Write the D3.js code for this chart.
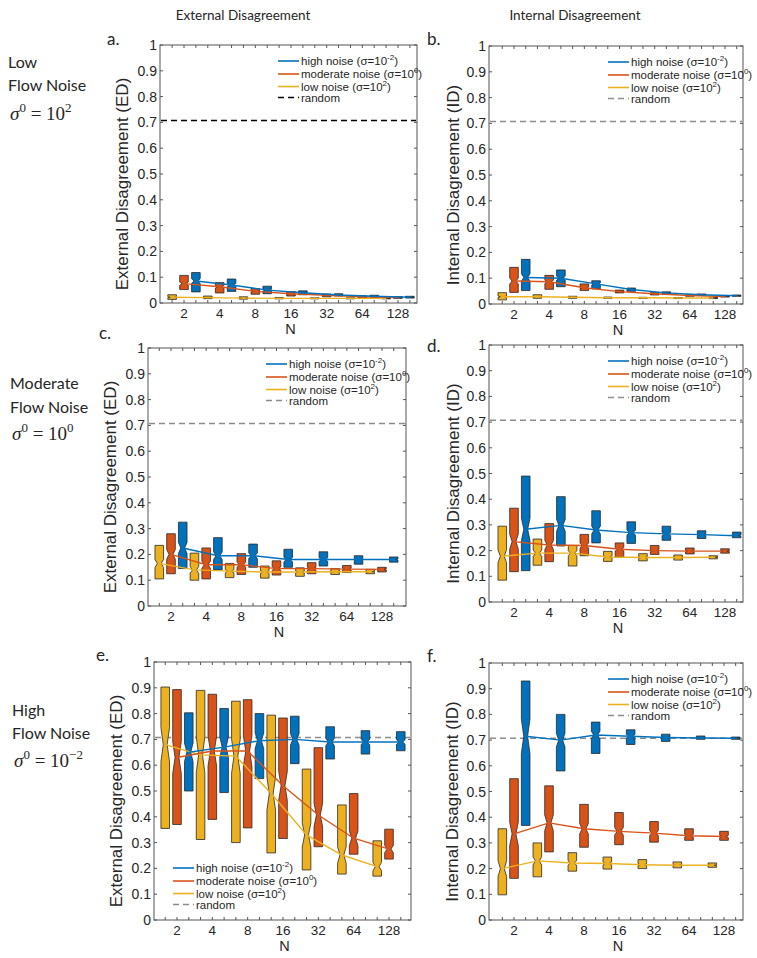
<!DOCTYPE html>
<html><head><meta charset="utf-8">
<script src="https://cdn.jsdelivr.net/npm/d3@7"></script>
<style>
body{margin:0;background:#fff;}
svg text{fill:#262626;}
</style>
</head><body>
<svg id="chart" width="757" height="958"></svg>
<script>
// ---------- DATA ----------
const Ns = [2, 4, 8, 16, 32, 64, 128];
const xTickLabels = ["2", "4", "8", "16", "32", "64", "128"];
const yTickValues = [0, 0.1, 0.2, 0.3, 0.4, 0.5, 0.6, 0.7, 0.8, 0.9, 1];
const randomLevel = 0.707;
const seriesNames = ["high noise (σ=10", "moderate noise (σ=10", "low noise (σ=10"];
const seriesExps = ["-2", "0", "2"];
const randomName = "random";
// each entry: [q1, median, q3] for N = 2..128
const aLow  = [[0.014,0.022,0.032],[0.017,0.021,0.027],[0.015,0.019,0.024],[0.016,0.018,0.021],[0.016,0.018,0.020],[0.016,0.018,0.020],[0.016,0.018,0.019]];
const aMod  = [[0.052,0.075,0.107],[0.039,0.063,0.079],[0.034,0.045,0.056],[0.027,0.036,0.044],[0.024,0.030,0.035],[0.020,0.024,0.028],[0.018,0.021,0.025]];
const aHigh = [[0.043,0.085,0.118],[0.045,0.070,0.093],[0.036,0.050,0.065],[0.032,0.040,0.047],[0.027,0.031,0.036],[0.022,0.026,0.030],[0.019,0.022,0.026]];
const bLow  = [[0.016,0.028,0.044],[0.022,0.028,0.036],[0.022,0.026,0.030],[0.022,0.024,0.027],[0.022,0.024,0.026],[0.021,0.023,0.025],[0.021,0.023,0.025]];
const bMod  = [[0.045,0.089,0.142],[0.057,0.086,0.111],[0.052,0.063,0.078],[0.043,0.048,0.054],[0.035,0.040,0.044],[0.030,0.033,0.036],[0.027,0.029,0.032]];
const bHigh = [[0.052,0.103,0.173],[0.067,0.100,0.132],[0.059,0.078,0.090],[0.049,0.056,0.062],[0.038,0.043,0.047],[0.033,0.036,0.039],[0.030,0.032,0.035]];
const cLow  = [[0.105,0.165,0.235],[0.100,0.140,0.205],[0.110,0.135,0.165],[0.108,0.132,0.155],[0.115,0.132,0.148],[0.122,0.133,0.145],[0.125,0.133,0.142]];
const cMod  = [[0.125,0.200,0.280],[0.105,0.160,0.225],[0.122,0.160,0.203],[0.120,0.145,0.175],[0.125,0.145,0.168],[0.130,0.143,0.157],[0.132,0.142,0.150]];
const cHigh = [[0.145,0.225,0.325],[0.140,0.195,0.265],[0.150,0.195,0.240],[0.150,0.180,0.220],[0.155,0.180,0.210],[0.162,0.180,0.195],[0.170,0.180,0.190]];
const dLow  = [[0.085,0.178,0.295],[0.143,0.190,0.245],[0.140,0.190,0.220],[0.158,0.175,0.197],[0.160,0.173,0.188],[0.163,0.173,0.183],[0.168,0.174,0.180]];
const dMod  = [[0.118,0.235,0.365],[0.157,0.222,0.305],[0.180,0.220,0.263],[0.175,0.205,0.230],[0.185,0.200,0.220],[0.187,0.198,0.210],[0.190,0.198,0.207]];
const dHigh = [[0.122,0.283,0.490],[0.218,0.298,0.410],[0.230,0.280,0.355],[0.228,0.270,0.312],[0.240,0.265,0.295],[0.247,0.262,0.277],[0.250,0.258,0.272]];
const eLow  = [[0.355,0.680,0.903],[0.312,0.640,0.890],[0.300,0.635,0.848],[0.260,0.490,0.794],[0.194,0.330,0.585],[0.178,0.252,0.446],[0.170,0.207,0.307]];
const eMod  = [[0.370,0.630,0.893],[0.390,0.655,0.875],[0.357,0.655,0.854],[0.316,0.520,0.783],[0.284,0.407,0.668],[0.255,0.317,0.490],[0.236,0.275,0.352]];
const eHigh = [[0.500,0.650,0.803],[0.494,0.670,0.820],[0.548,0.695,0.800],[0.606,0.700,0.790],[0.624,0.690,0.749],[0.643,0.690,0.734],[0.656,0.690,0.730]];
const fLow  = [[0.098,0.200,0.355],[0.168,0.230,0.300],[0.190,0.222,0.262],[0.198,0.220,0.245],[0.200,0.215,0.235],[0.203,0.213,0.226],[0.205,0.213,0.222]];
const fMod  = [[0.162,0.335,0.550],[0.265,0.378,0.522],[0.283,0.355,0.450],[0.293,0.345,0.418],[0.303,0.338,0.383],[0.310,0.328,0.355],[0.310,0.325,0.345]];
const fHigh = [[0.368,0.715,0.930],[0.580,0.700,0.800],[0.648,0.720,0.770],[0.683,0.715,0.740],[0.695,0.710,0.723],[0.703,0.708,0.716],[0.703,0.707,0.712]];

// ---------- LAYOUT / STYLE ----------
const colors = {high: "#0072BD", mod: "#D95319", low: "#EDB120"};
const offsets = {low: -1/3, mod: 0, high: 1/3};
const panels = [
  {id:"a.", lx:107, ly:45, left:160, right:417, top:45, bottom:303, x2:184, x128:398, ylabel:"External Disagreement (ED)", ylx:128, data:{low:aLow, mod:aMod, high:aHigh}, legend:{x:278, y:61}, randColor:"#000"},
  {id:"b.", lx:427, ly:45, left:489, right:743, top:46, bottom:304, x2:514, x128:725, ylabel:"Internal Disagreement (ID)", ylx:459, data:{low:bLow, mod:bMod, high:bHigh}, legend:{x:608, y:62}, randColor:"#8c8c8c"},
  {id:"c.", lx:99, ly:339, left:148, right:406, top:348, bottom:606, x2:171, x128:382, ylabel:"External Disagreement (ED)", ylx:116, data:{low:cLow, mod:cMod, high:cHigh}, legend:{x:266, y:364}, randColor:"#8c8c8c"},
  {id:"d.", lx:427, ly:352, left:489, right:743, top:345, bottom:602, x2:514, x128:725, ylabel:"Internal Disagreement (ID)", ylx:459, data:{low:dLow, mod:dMod, high:dHigh}, legend:{x:608, y:361}, randColor:"#8c8c8c"},
  {id:"e.", lx:96, ly:661, left:154, right:411, top:662, bottom:920, x2:177, x128:389, ylabel:"External Disagreement (ED)", ylx:122, data:{low:eLow, mod:eMod, high:eHigh}, legend:{x:173, y:868}, randColor:"#8c8c8c"},
  {id:"f.", lx:427, ly:662, left:489, right:743, top:663, bottom:920, x2:514, x128:724, ylabel:"Internal Disagreement (ID)", ylx:458, data:{low:fLow, mod:fMod, high:fHigh}, legend:{x:608, y:679}, randColor:"#8c8c8c"}
];

const svg = d3.select("#chart");
const sansT = "Lato, 'Open Sans', sans-serif";
const sansA = "Liberation Sans";

// column headers
svg.append("text").attr("x", 243).attr("y", 20).attr("text-anchor", "middle")
  .attr("font-family", sansT).attr("font-size", 13.5).text("External Disagreement");
svg.append("text").attr("x", 575).attr("y", 20).attr("text-anchor", "middle")
  .attr("font-family", sansT).attr("font-size", 13.5).text("Internal Disagreement");

// row labels
const rowLabels = [
  {lines:["Low", "Flow Noise"], y:[68, 91], sy:120, exp:"2"},
  {lines:["Moderate", "Flow Noise"], y:[389, 413], sy:440, exp:"0"},
  {lines:["High", "Flow Noise"], y:[716, 739], sy:767, exp:"−2"}
];
rowLabels.forEach((r, i) => {
  const x0 = 8 + i * 2;
  r.lines.forEach((l, j) => {
    svg.append("text").attr("x", x0).attr("y", r.y[j]).attr("font-family", sansT)
      .attr("font-size", 16).text(l);
  });
  const t = svg.append("text").attr("x", x0 + 2).attr("y", r.sy)
    .attr("font-family", "Liberation Serif").attr("font-size", 19);
  t.append("tspan").attr("font-style", "italic").text("σ");
  t.append("tspan").attr("dy", -8).attr("font-size", 13).text("0");
  t.append("tspan").attr("dy", 8).text(" = 10");
  t.append("tspan").attr("dy", -8).attr("font-size", 13).text(r.exp);
});

panels.forEach(p => {
  const g = svg.append("g");
  const x = d3.scaleLinear().domain([1, 7]).range([p.x2, p.x128]);
  const y = d3.scaleLinear().domain([0, 1]).range([p.bottom, p.top]);
  const pos = (i, s) => x(Math.log2(Ns[i]) + offsets[s]);

  // panel letter
  svg.append("text").attr("x", p.lx).attr("y", p.ly).attr("font-family", sansT)
    .attr("font-size", 17).text(p.id);

  // frame
  g.append("rect").attr("x", p.left).attr("y", p.top).attr("width", p.right - p.left)
    .attr("height", p.bottom - p.top).attr("fill", "none").attr("stroke", "#555").attr("stroke-width", 1);

  // x ticks at every box position
  const tickPos = [];
  Ns.forEach((n, i) => ["low", "mod", "high"].forEach(s => tickPos.push(pos(i, s))));
  tickPos.forEach(tx => {
    g.append("line").attr("x1", tx).attr("x2", tx).attr("y1", p.bottom).attr("y2", p.bottom - 3).attr("stroke", "#555");
    g.append("line").attr("x1", tx).attr("x2", tx).attr("y1", p.top).attr("y2", p.top + 3).attr("stroke", "#555");
  });
  xTickLabels.forEach((lab, i) => {
    g.append("text").attr("x", pos(i, "mod")).attr("y", p.bottom + 15).attr("text-anchor", "middle")
      .attr("font-family", sansA).attr("font-size", 13.5).text(lab);
  });
  g.append("text").attr("x", (p.left + p.right) / 2 + 2).attr("y", p.bottom + 31).attr("text-anchor", "middle")
    .attr("font-family", sansA).attr("font-size", 14.5).text("N");

  // y ticks
  yTickValues.forEach(v => {
    g.append("line").attr("x1", p.left).attr("x2", p.left + 3).attr("y1", y(v)).attr("y2", y(v)).attr("stroke", "#555");
    g.append("line").attr("x1", p.right).attr("x2", p.right - 3).attr("y1", y(v)).attr("y2", y(v)).attr("stroke", "#555");
    g.append("text").attr("x", p.left - 3).attr("y", y(v) + 5).attr("text-anchor", "end")
      .attr("font-family", sansA).attr("font-size", 14).text(v === 0 ? "0" : v === 1 ? "1" : v.toFixed(1));
  });
  g.append("text").attr("transform", `translate(${p.ylx},${(p.top + p.bottom) / 2 + 10}) rotate(-90)`)
    .attr("text-anchor", "middle").attr("font-family", sansA).attr("font-size", 17).text(p.ylabel);

  // random line
  g.append("line").attr("x1", p.left + 1).attr("x2", p.right - 1).attr("y1", y(randomLevel)).attr("y2", y(randomLevel))
    .attr("stroke", p.randColor).attr("stroke-width", 1.5).attr("stroke-dasharray", "6,4");

  // boxes
  const hw = 4.3;
  ["low", "mod", "high"].forEach(s => {
    p.data[s].forEach((d, i) => {
      const cx = pos(i, s);
      const [q1, md, q3] = d;
      let n = 0.12 * (q3 - q1);
      n = Math.min(n, md - q1, q3 - md);
      const pts = [
        [cx - hw, y(q1)], [cx + hw, y(q1)], [cx + hw, y(md - n)], [cx + hw * 0.45, y(md)],
        [cx + hw, y(md + n)], [cx + hw, y(q3)], [cx - hw, y(q3)], [cx - hw, y(md + n)],
        [cx - hw * 0.45, y(md)], [cx - hw, y(md - n)]
      ];
      g.append("path").attr("d", d3.line()(pts) + "Z").attr("fill", colors[s])
        .attr("stroke", "#2a2a2a").attr("stroke-width", 0.8).attr("stroke-linejoin", "round");
    });
  });
  // median lines
  ["low", "mod", "high"].forEach(s => {
    const line = d3.line().x((d, i) => pos(i, s)).y(d => y(d[1]));
    g.append("path").attr("d", line(p.data[s])).attr("fill", "none").attr("stroke", colors[s]).attr("stroke-width", 1.4);
  });

  // legend
  const L = p.legend;
  const entries = [
    {c: colors.high, t: seriesNames[0], e: seriesExps[0]},
    {c: colors.mod, t: seriesNames[1], e: seriesExps[1]},
    {c: colors.low, t: seriesNames[2], e: seriesExps[2]},
    {c: p.randColor, t: randomName, e: null, dash: true}
  ];
  const step = [13, 12.5, 11];
  let ly = L.y;
  entries.forEach((en, k) => {
    g.append("line").attr("x1", L.x).attr("x2", L.x + 21).attr("y1", ly).attr("y2", ly)
      .attr("stroke", en.c).attr("stroke-width", en.dash ? 1.5 : 1.6).attr("stroke-dasharray", en.dash ? "6,4" : null);
    const t = g.append("text").attr("x", L.x + 23).attr("y", ly + 4).attr("font-family", sansA).attr("font-size", 11.5);
    t.append("tspan").text(en.t);
    if (en.e !== null) {
      t.append("tspan").attr("dy", -5).attr("font-size", 8).text(en.e);
      t.append("tspan").attr("dy", 5).text(")");
    }
    if (k < 3) ly += step[k];
  });
});
</script>
</body></html>
